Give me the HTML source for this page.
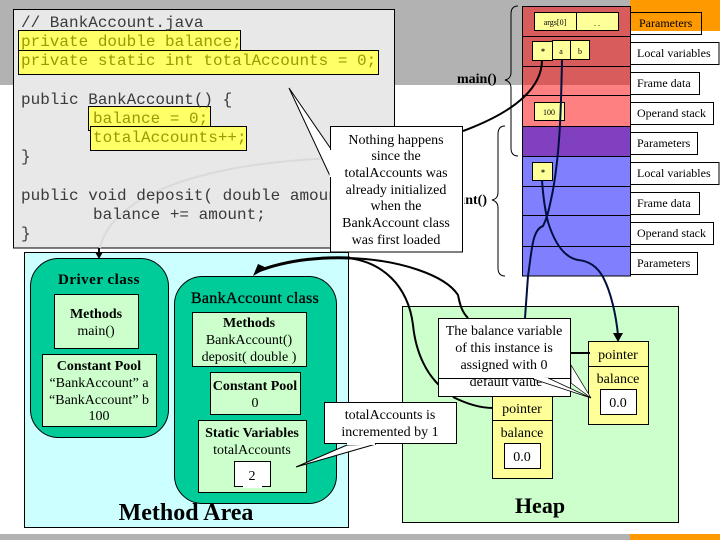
<!DOCTYPE html>
<html><head><meta charset="utf-8"><style>
html,body{margin:0;padding:0;background:#fff}
svg{display:block}
text{font-family:"Liberation Serif",serif;fill:#000}
.m{font-family:"Liberation Mono",monospace;font-size:16px;fill:#3a3a3a}
.y{fill:#999900}
.b{font-weight:bold}
.c{text-anchor:middle}
.l{font-size:12px}
.s{font-size:14px}
.t{font-size:14px}
</style></head><body>
<svg width="720" height="540" viewBox="0 0 720 540" xmlns="http://www.w3.org/2000/svg">
<rect x="0" y="0" width="630" height="85" fill="#b2b2b2"/>
<rect x="630" y="0" width="90" height="31" fill="#ff9900"/>
<rect x="0" y="534" width="630" height="6" fill="#b2b2b2"/>
<rect x="630" y="534" width="90" height="6" fill="#ff9900"/>

<!-- code panel -->
<rect x="13.500" y="9.500" width="381" height="238.500" fill="#e8e8e8" stroke="#000"/>
<path d="M100 248C108 210 165 165 335 158" fill="none" stroke="#dadada" stroke-width="2"/>
<rect x="18.500" y="30.500" width="222" height="23.500" fill="#ffff66" stroke="#000"/>
<rect x="18.500" y="50.500" width="360" height="24" fill="#ffff66" stroke="#000"/>
<rect x="88.500" y="106.500" width="122" height="24" fill="#ffff66" stroke="#000"/>
<rect x="90.500" y="126.500" width="156" height="24" fill="#ffff66" stroke="#000"/>
<text class="m" x="21" y="27">// BankAccount.java</text>
<text class="m y" x="21" y="46">private double balance;</text>
<text class="m y" x="21" y="65">private static int totalAccounts = 0;</text>
<text class="m" x="21" y="104">public BankAccount() {</text>
<text class="m y" x="93" y="123">balance = 0;</text>
<text class="m y" x="93" y="142">totalAccounts++;</text>
<text class="m" x="21" y="161">}</text>
<text class="m" x="21" y="200">public void deposit( double amount ) {</text>
<text class="m" x="93" y="219">balance += amount;</text>
<text class="m" x="21" y="238">}</text>

<!-- method area -->
<rect x="24.500" y="252.500" width="324" height="275" fill="#ccffff" stroke="#000"/>
<path d="M99 248V256" stroke="#000" stroke-width="2"/>
<path d="M95 252H103L99 259Z" fill="#000"/>
<rect x="30.500" y="258.500" width="138" height="179" rx="28" fill="#00cc99" stroke="#000"/>
<text class="b c" x="99" y="284" style="font-size:15px;letter-spacing:.5px">Driver class</text>
<rect x="54.500" y="294.500" width="84" height="54" fill="#ccffcc" stroke="#000"/>
<text class="b c s" x="96" y="318">Methods</text>
<text class="c s" x="96" y="335">main()</text>
<rect x="42.500" y="354.500" width="114" height="72" fill="#ccffcc" stroke="#000"/>
<text class="b c s" x="99" y="370">Constant Pool</text>
<text class="c s" x="99" y="387">“BankAccount” a</text>
<text class="c s" x="99" y="404">“BankAccount” b</text>
<text class="c s" x="99" y="420">100</text>

<rect x="174.500" y="276.500" width="162" height="227" rx="28" fill="#00cc99" stroke="#000"/>
<text class="c" x="255" y="303" style="font-size:16px;letter-spacing:.3px;stroke:#000;stroke-width:.3">BankAccount class</text>
<rect x="192.500" y="312.500" width="114" height="54" fill="#ccffcc" stroke="#000"/>
<text class="b c s" x="249" y="327">Methods</text>
<text class="c s" x="249" y="344">BankAccount()</text>
<text class="c s" x="249" y="361">deposit( double )</text>
<rect x="210.500" y="372.500" width="90" height="42" fill="#ccffcc" stroke="#000"/>
<text class="b c s" x="255" y="390">Constant Pool</text>
<text class="c s" x="255" y="407">0</text>
<rect x="198.500" y="420.500" width="108" height="72" fill="#ccffcc" stroke="#000"/>
<text class="b c s" x="252" y="437">Static Variables</text>
<text class="c s" x="252" y="454">totalAccounts</text>
<rect x="234.500" y="461.500" width="36" height="25" fill="#fff" stroke="#000"/>
<path d="M243 487H262" stroke="#fff" stroke-width="2"/>
<text class="c s" x="252" y="480">2</text>
<text class="b c" x="186" y="520" style="font-size:24px">Method Area</text>

<!-- heap -->
<rect x="402.500" y="306.500" width="276" height="216" fill="#ccffcc" stroke="#000"/>
<text class="b c" x="540" y="513" style="font-size:22px">Heap</text>
<rect x="588.500" y="341.500" width="60" height="83" fill="#ffff99" stroke="#000"/>
<path d="M588.500 366.500H648.500" stroke="#000"/>
<text class="c s" x="618" y="359">pointer</text>
<text class="c s" x="618" y="383">balance</text>
<rect x="600.500" y="389.500" width="36" height="25" fill="#fff" stroke="#000"/>
<text class="c s" x="618" y="407">0.0</text>
<rect x="492.500" y="395.500" width="60" height="83" fill="#ffff99" stroke="#000"/>
<path d="M492.500 420.500H552.500" stroke="#000"/>
<text class="c s" x="522" y="413">pointer</text>
<text class="c s" x="522" y="437">balance</text>
<rect x="504.500" y="443.500" width="36" height="25" fill="#fff" stroke="#000"/>
<text class="c s" x="522" y="461">0.0</text>

<!-- stack -->
<rect x="522.500" y="6.500" width="108" height="79" fill="#d95c5c"/>
<rect x="522.500" y="85" width="108" height="41" fill="#ff8080"/>
<rect x="522.500" y="126" width="108" height="30" fill="#8040c0"/>
<rect x="522.500" y="156" width="108" height="120" fill="#8080ff"/>
<rect x="522.500" y="6.500" width="108" height="269.500" fill="none" stroke="#000"/>
<path d="M522.500 36.500H630.500M522.500 66.500H630.500M522.500 95.500H630.500M522.500 126.500H630.500M522.500 156.500H630.500M522.500 186.500H630.500M522.500 215.500H630.500M522.500 246.500H630.500" stroke="#000" fill="none"/>
<rect x="534.500" y="12.500" width="84" height="18" fill="#ffff99" stroke="#000"/>
<path d="M576.500 12.500V30.500" stroke="#000"/>
<text class="c" x="555" y="25" style="font-size:8px">args[0]</text>
<text class="c" x="597" y="26" style="font-size:8px">. .</text>
<rect x="532.500" y="41.500" width="20" height="19" fill="#ffff99" stroke="#000"/>
<rect x="552.500" y="40.500" width="37" height="19" fill="#ffff99" stroke="#000"/>
<path d="M570.500 40.500V59.500" stroke="#000"/>
<text class="c b" x="543" y="54" style="font-size:8px">*</text>
<text class="c" x="561" y="54" style="font-size:8px">a</text>
<text class="c" x="580" y="54" style="font-size:8px">b</text>
<rect x="534.500" y="102.500" width="30" height="18" fill="#ffff99" stroke="#000"/>
<text class="c" x="549" y="115" style="font-size:8px">100</text>
<rect x="532.500" y="162.500" width="20" height="18" fill="#ffff99" stroke="#000"/>
<text class="c b" x="543" y="175" style="font-size:8px">*</text>

<!-- stack connectors -->
<g fill="none" stroke="#000" stroke-width="2">
<path d="M542 60C542 85 520 110 463 131"/>
<path d="M562 60C561 110 560 150 553 190C549 210 547 218 543 226C532 230 532 250 528 276L525 318" stroke="#001040"/>
<path d="M542 180C543 195 545 210 548 222C553 238 562 257 578 260C590 261 598 268 603 277C611 292 616 315 618 335" stroke="#001040"/>
<path d="M256 272C290 258 330 257 350 258" stroke-width="3"/>
<path d="M350 258C400 260 445 275 458 295C460 305 462 312 468 318"/>
<path d="M348 258C382 262 408 285 413 325C416 355 428 375 440 386"/>
<path d="M453 397C465 403 478 408 493 408"/>
<path d="M550 353H590"/>
</g>
<path d="M253 276L258 264L267 268Z" fill="#000"/>
<path d="M613 333L623 333L618 342Z" fill="#000"/>

<!-- stack labels -->
<g fill="#fff" stroke="#000">
<rect x="630.500" y="12.500" width="71" height="22" fill="none"/>
<rect x="630.500" y="42.500" width="88.500" height="22"/>
<rect x="630.500" y="72.500" width="69" height="22"/>
<rect x="630.500" y="102.500" width="83" height="22"/>
<rect x="630.500" y="132.500" width="67" height="22"/>
<rect x="630.500" y="162.500" width="88.500" height="22"/>
<rect x="630.500" y="192.500" width="69" height="22"/>
<rect x="630.500" y="222.500" width="83" height="22"/>
<rect x="630.500" y="252.500" width="67" height="22"/>
</g>
<g class="l">
<text class="l" x="639" y="27">Parameters</text>
<text class="l" x="637" y="57">Local variables</text>
<text class="l" x="637" y="87">Frame data</text>
<text class="l" x="637" y="117">Operand stack</text>
<text class="l" x="637" y="147">Parameters</text>
<text class="l" x="637" y="177">Local variables</text>
<text class="l" x="637" y="207">Frame data</text>
<text class="l" x="637" y="237">Operand stack</text>
<text class="l" x="637" y="267">Parameters</text>
</g>

<!-- braces -->
<g fill="none" stroke="#000" stroke-width="1">
<path d="M518 6C513 6 511 9 511 14V72C511 77 509 79 505 80C509 81 511 84 511 88V148C511 153 513 156 518 156"/>
<path d="M505 126C500 126 498 129 498 134V192C498 197 496 199 492 200C496 201 498 204 498 208V268C498 273 500 276 505 276"/>
</g>
<text class="b" x="457" y="83" style="font-size:14px">main()</text>
<text class="b" x="487" y="204" style="font-size:14px;text-anchor:end">amount()</text>
<rect x="460" y="190" width="4" height="18" fill="#fff"/>

<!-- nothing callout -->
<polygon points="289,88 331,149 331,178" fill="#fff" stroke="#000"/>
<rect x="330.500" y="126.500" width="132" height="125.500" fill="#fff" stroke="#000"/>
<path d="M330.500 150V177" stroke="#fff" stroke-width="2"/>
<text class="c t" x="396" y="144">Nothing happens</text>
<text class="c t" x="396" y="160">since the</text>
<text class="c t" x="396" y="177">totalAccounts was</text>
<text class="c t" x="396" y="194">already initialized</text>
<text class="c t" x="396" y="210">when the</text>
<text class="c t" x="396" y="227">BankAccount class</text>
<text class="c t" x="396" y="244">was first loaded</text>
<path d="M462.500 188V210" stroke="#000"/>

<!-- balance callouts -->
<rect x="438.500" y="378.500" width="132" height="18" fill="#fff" stroke="#000"/>
<text class="c t" x="506" y="386">default value</text>
<polygon points="571,365 591,398 571,383" fill="#fff" stroke="#000" stroke-width=".7"/>
<rect x="438.500" y="318.500" width="132" height="60" fill="#fff" stroke="#000"/>
<polygon points="591,398 548,378 533,379" fill="#fff" stroke="#000" stroke-width=".8"/>
<path d="M534 378.500H548" stroke="#fff" stroke-width="1.500"/>
<text class="c t" x="504" y="335">The balance variable</text>
<text class="c t" x="504" y="352">of this instance is</text>
<text class="c t" x="504" y="369">assigned with 0</text>

<!-- total callout -->
<polygon points="296,467 347,445 376,444" fill="#fff" stroke="#000"/>
<rect x="324.500" y="402.500" width="132" height="41" fill="#fff" stroke="#000"/>
<path d="M347 444H375" stroke="#fff" stroke-width="2"/>
<text class="c t" x="390" y="419">totalAccounts is</text>
<text class="c t" x="390" y="436">incremented by 1</text>
</svg>
</body></html>
